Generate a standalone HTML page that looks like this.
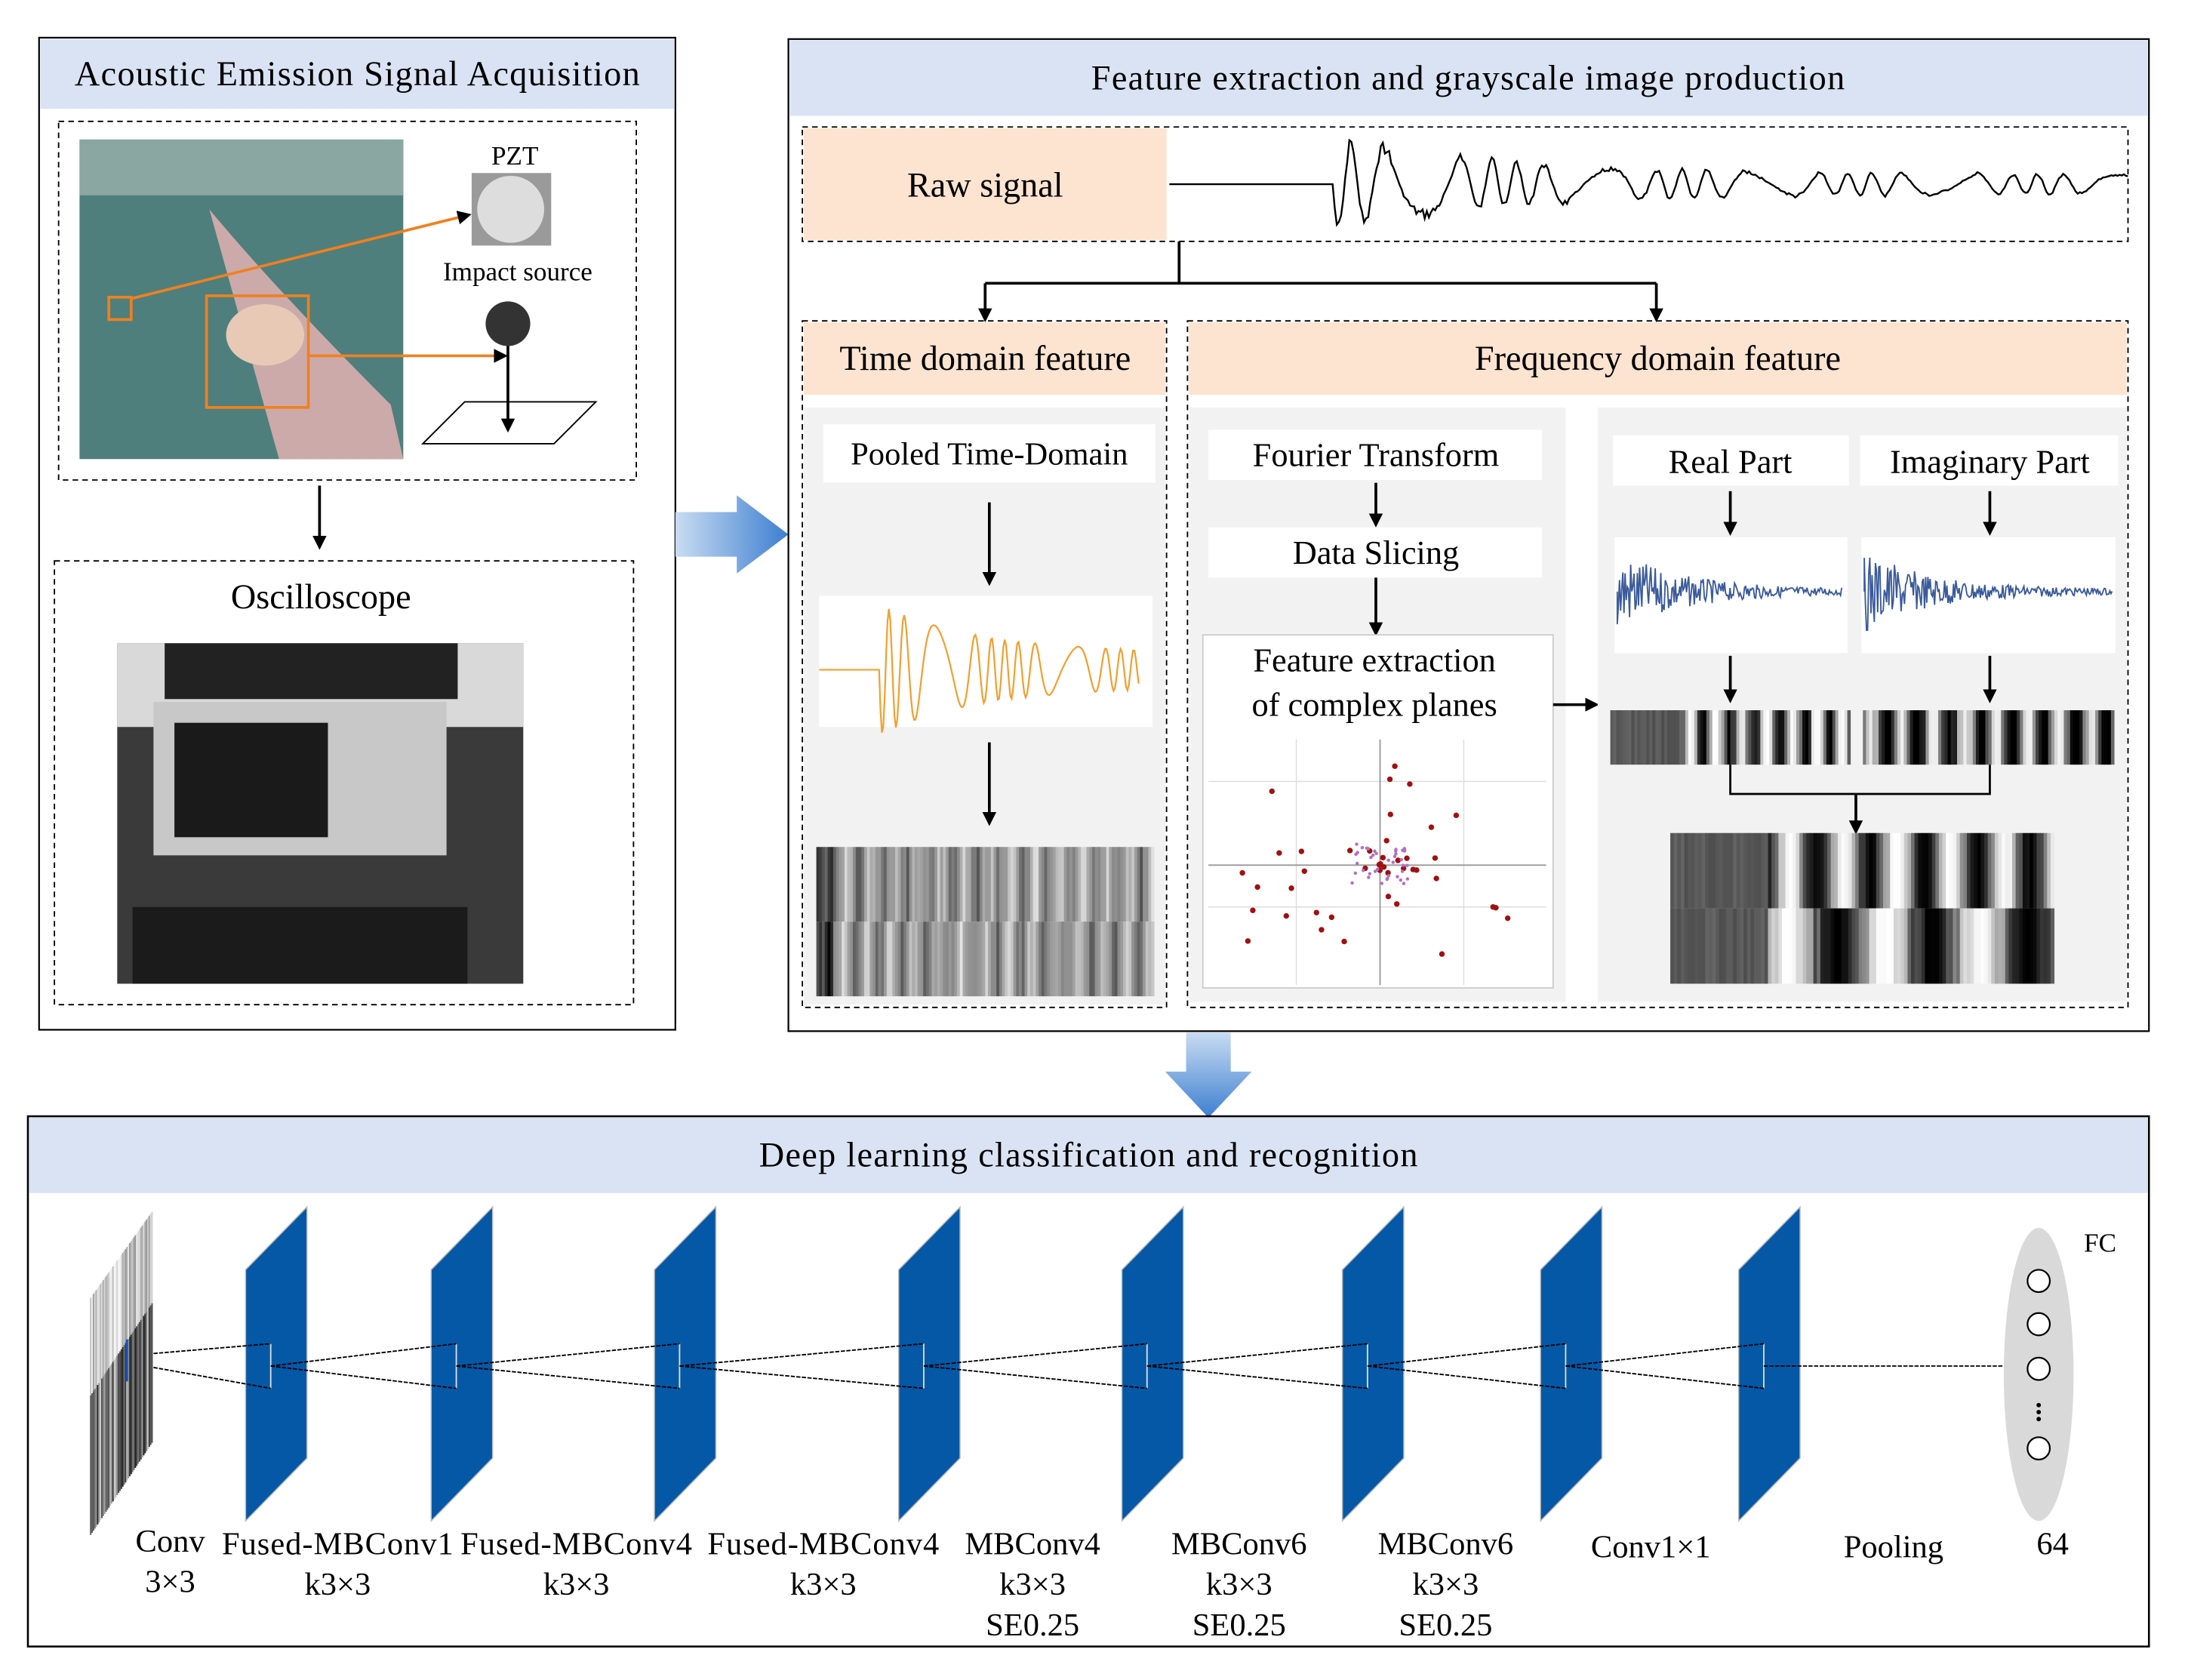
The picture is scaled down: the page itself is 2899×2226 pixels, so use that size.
<!DOCTYPE html>
<html><head><meta charset="utf-8"><style>
html,body{margin:0;padding:0;background:#fff;width:2899px;height:2226px;overflow:hidden}
svg text{font-family:"Liberation Serif",serif;fill:#000}
</style></head><body>
<svg id="s" width="2899" height="2226" viewBox="0 0 1568 1204" preserveAspectRatio="none" xmlns="http://www.w3.org/2000/svg">
<defs>
<marker id="ar" markerWidth="10" markerHeight="10" refX="8" refY="5" orient="auto" markerUnits="userSpaceOnUse"><path d="M0,0 L10,5 L0,10 z" fill="#000"/></marker>
<linearGradient id="bg1" x1="0" x2="1" y1="0" y2="0"><stop offset="0" stop-color="#c9dcf2"/><stop offset="1" stop-color="#3d7fd1"/></linearGradient>
<linearGradient id="bg2" x1="0" x2="0" y1="0" y2="1"><stop offset="0" stop-color="#c9dcf2"/><stop offset="1" stop-color="#3d7fd1"/></linearGradient>
</defs>
<rect width="1568" height="1204" fill="#fff"/>
<rect x="28" y="27" width="456" height="711" fill="none" stroke="#000" stroke-width="1.2"/>
<rect x="29" y="28" width="454" height="50" fill="#dae3f3"/>
<text x="256" y="61" font-size="25" text-anchor="middle" textLength="405">Acoustic Emission Signal Acquisition</text>
<rect x="42" y="87" width="414" height="257" fill="none" stroke="#000" stroke-dasharray="4,3"/>
<rect x="57" y="100" width="232" height="229" fill="#4e7f7c"/>
<rect x="57" y="100" width="232" height="40" fill="#8aa7a2"/>
<path d="M150,150 Q200,210 280,290 L289,329 L200,329 Z" fill="#caa"/>
<ellipse cx="190" cy="240" rx="28" ry="22" fill="#e7c9b6"/>
<rect x="78" y="213" width="16" height="16" fill="none" stroke="#f08020" stroke-width="2"/>
<rect x="148" y="212" width="73" height="80" fill="none" stroke="#f08020" stroke-width="2"/>
<line x1="94" y1="214" x2="336" y2="154" stroke="#f08020" stroke-width="2" marker-end="url(#ar)"/>
<line x1="221" y1="255" x2="362" y2="255" stroke="#f08020" stroke-width="2" marker-end="url(#ar)"/>
<text x="369" y="118" font-size="19" text-anchor="middle">PZT</text>
<rect x="338" y="124" width="57" height="52" fill="#9a9a9a"/>
<circle cx="366" cy="150" r="24" fill="#ddd"/>
<text x="371" y="201" font-size="19" text-anchor="middle">Impact source</text>
<circle cx="364" cy="232" r="16" fill="#333"/>
<line x1="364" y1="248" x2="364" y2="308" stroke="#000" stroke-width="2" marker-end="url(#ar)"/>
<polygon points="303,318 333,288 427,288 397,318" fill="none" stroke="#000"/>
<line x1="229" y1="348" x2="229" y2="392" stroke="#000" stroke-width="2" marker-end="url(#ar)"/>
<rect x="39" y="402" width="415" height="318" fill="none" stroke="#000" stroke-dasharray="4,3"/>
<text x="230" y="436" font-size="25" text-anchor="middle">Oscilloscope</text>
<rect x="84" y="461" width="291" height="244" fill="#3a3a3a"/>
<rect x="84" y="461" width="291" height="60" fill="#d9d9d9"/>
<rect x="118" y="461" width="210" height="40" fill="#222"/>
<rect x="110" y="503" width="210" height="110" fill="#c8c8c8"/>
<rect x="125" y="518" width="110" height="82" fill="#1a1a1a"/>
<rect x="95" y="650" width="240" height="55" fill="#1b1b1b"/>
<polygon points="484,367 528,367 528,355 565,383 528,411 528,399 484,399" fill="url(#bg1)"/>
<rect x="565" y="28" width="975" height="711" fill="none" stroke="#000" stroke-width="1.2"/>
<rect x="566" y="29" width="973" height="54" fill="#dae3f3"/>
<text x="1052" y="64" font-size="25" text-anchor="middle" textLength="540">Feature extraction and grayscale image production</text>
<rect x="575" y="91" width="950" height="82" fill="none" stroke="#000" stroke-dasharray="4,3"/>
<rect x="576" y="92" width="260" height="80" fill="#fde4d0"/>
<text x="706" y="141" font-size="25" text-anchor="middle">Raw signal</text>
<path id="raw" fill="none" stroke="#000" stroke-width="1.3"/>
<path d="M845,173 V203 M706,203 H1187" stroke="#000" stroke-width="2" fill="none"/>
<line x1="706" y1="203" x2="706" y2="229" stroke="#000" stroke-width="2" marker-end="url(#ar)"/>
<line x1="1187" y1="203" x2="1187" y2="229" stroke="#000" stroke-width="2" marker-end="url(#ar)"/>
<rect x="575" y="230" width="261" height="492" fill="none" stroke="#000" stroke-dasharray="4,3"/>
<rect x="576" y="231" width="259" height="52" fill="#fde4d0"/>
<text x="706" y="265" font-size="25" text-anchor="middle">Time domain feature</text>
<rect x="576" y="292" width="259" height="428" fill="#f2f2f2"/>
<rect x="590" y="304" width="238" height="42" fill="#fff"/>
<text x="709" y="333" font-size="23" text-anchor="middle">Pooled Time-Domain</text>
<line x1="709" y1="360" x2="709" y2="418" stroke="#000" stroke-width="2" marker-end="url(#ar)"/>
<rect x="587" y="427" width="239" height="94" fill="#fff"/>
<path id="tsig" fill="none" stroke="#f0a030" stroke-width="1.2"/>
<line x1="709" y1="532" x2="709" y2="590" stroke="#000" stroke-width="2" marker-end="url(#ar)"/>
<g id="tbar"></g>
<rect x="851" y="230" width="674" height="492" fill="none" stroke="#000" stroke-dasharray="4,3"/>
<rect x="852" y="231" width="672" height="52" fill="#fde4d0"/>
<text x="1188" y="265" font-size="25" text-anchor="middle">Frequency domain feature</text>
<rect x="852" y="292" width="270" height="426" fill="#f2f2f2"/>
<rect x="866" y="308" width="239" height="36" fill="#fff"/>
<text x="986" y="334" font-size="24" text-anchor="middle">Fourier Transform</text>
<line x1="986" y1="346" x2="986" y2="376" stroke="#000" stroke-width="2" marker-end="url(#ar)"/>
<rect x="866" y="378" width="239" height="36" fill="#fff"/>
<text x="986" y="404" font-size="24" text-anchor="middle">Data Slicing</text>
<line x1="986" y1="414" x2="986" y2="454" stroke="#000" stroke-width="2" marker-end="url(#ar)"/>
<rect x="862" y="455" width="251" height="253" fill="#fff" stroke="#ccc"/>
<text x="985" y="481" font-size="24" text-anchor="middle">Feature extraction</text>
<text x="985" y="513" font-size="24" text-anchor="middle">of complex planes</text>
<g stroke="#ddd" stroke-width="0.8"><path d="M866,560H1108M866,650H1108M929,530V706M1049,530V706"/></g>
<path d="M866,620H1108M989,530V706" stroke="#999" stroke-width="1"/>
<g id="scat"></g>
<line x1="1113" y1="505" x2="1144" y2="505" stroke="#000" stroke-width="2" marker-end="url(#ar)"/>
<rect x="1145" y="292" width="379" height="426" fill="#f2f2f2"/>
<rect x="1156" y="312" width="169" height="36" fill="#fff"/>
<text x="1240" y="339" font-size="24" text-anchor="middle">Real Part</text>
<rect x="1333" y="312" width="185" height="36" fill="#fff"/>
<text x="1426" y="339" font-size="24" text-anchor="middle">Imaginary Part</text>
<line x1="1240" y1="352" x2="1240" y2="382" stroke="#000" stroke-width="2" marker-end="url(#ar)"/>
<line x1="1426" y1="352" x2="1426" y2="382" stroke="#000" stroke-width="2" marker-end="url(#ar)"/>
<rect x="1157" y="385" width="167" height="83" fill="#fff"/>
<rect x="1334" y="385" width="182" height="83" fill="#fff"/>
<path id="rs" fill="none" stroke="#3a5a9a" stroke-width="1"/>
<path id="is" fill="none" stroke="#3a5a9a" stroke-width="1"/>
<line x1="1240" y1="470" x2="1240" y2="502" stroke="#000" stroke-width="2" marker-end="url(#ar)"/>
<line x1="1426" y1="470" x2="1426" y2="502" stroke="#000" stroke-width="2" marker-end="url(#ar)"/>
<g id="rbar"></g><g id="ibar"></g>
<path d="M1240,548V569H1426V548" stroke="#000" stroke-width="1.5" fill="none"/>
<line x1="1330" y1="569" x2="1330" y2="596" stroke="#000" stroke-width="2" marker-end="url(#ar)"/>
<g id="bbar"></g>
<polygon points="850,740 882,740 882,768 897,768 866,801 835,768 850,768" fill="url(#bg2)"/>
<rect x="20" y="800" width="1520" height="380" fill="none" stroke="#000" stroke-width="1.4"/>
<rect x="21" y="801" width="1518" height="54" fill="#dae3f3"/>
<text x="780" y="836" font-size="25" text-anchor="middle" textLength="472">Deep learning classification and recognition</text>
<g id="inp"></g>
<g id="net"></g>
<ellipse cx="1461" cy="985" rx="25" ry="105" fill="#d9d9d9"/>
<g fill="#fff" stroke="#000" stroke-width="1.2">
<circle cx="1461" cy="918" r="8"/><circle cx="1461" cy="949" r="8"/><circle cx="1461" cy="981" r="8"/><circle cx="1461" cy="1038" r="8"/></g>
<g fill="#000"><circle cx="1461" cy="1007" r="1.6"/><circle cx="1461" cy="1012" r="1.6"/><circle cx="1461" cy="1017" r="1.6"/></g>
<text x="1505" y="897" font-size="19" text-anchor="middle">FC</text>
<g font-size="23" text-anchor="middle">
<text x="122" y="1112">Conv</text><text x="122" y="1141">3×3</text>
<text x="242" y="1114" textLength="166">Fused-MBConv1</text><text x="242" y="1143">k3×3</text>
<text x="413" y="1114" textLength="166">Fused-MBConv4</text><text x="413" y="1143">k3×3</text>
<text x="590" y="1114" textLength="166">Fused-MBConv4</text><text x="590" y="1143">k3×3</text>
<text x="740" y="1114">MBConv4</text><text x="740" y="1143">k3×3</text><text x="740" y="1172">SE0.25</text>
<text x="888" y="1114">MBConv6</text><text x="888" y="1143">k3×3</text><text x="888" y="1172">SE0.25</text>
<text x="1036" y="1114">MBConv6</text><text x="1036" y="1143">k3×3</text><text x="1036" y="1172">SE0.25</text>
<text x="1183" y="1116">Conv1×1</text>
<text x="1357" y="1116">Pooling</text>
<text x="1471" y="1114">64</text>
</g>
</svg>
<script>
var NS="http://www.w3.org/2000/svg";
function R(s){return function(){s=(s*9301+49297)%233280;return s/233280;}}
var r=R(7);
function el(p,t,a){var e=document.createElementNS(NS,t);for(var k in a)e.setAttribute(k,a[k]);p.appendChild(e);return e;}
var d="M838,132";
for(var x=838;x<=1525;x+=1.5){var y=132;
 if(x>955){var t=x-955;var env=30*Math.exp(-t/120)+8;y=132+env*Math.sin(t*0.22+Math.sin(t*0.05)*3)*(0.7+0.3*r());}
 d+=" L"+x+","+y.toFixed(1);}
document.getElementById("raw").setAttribute("d",d);
d="M587,480";
for(x=587;x<=816;x+=1){var t=x-630;var y=480;if(t>0){y=480+(35*Math.exp(-t/70)+12)*Math.sin(t*0.4+Math.sin(t*0.07)*4);}d+=" L"+x+","+y.toFixed(1);}
document.getElementById("tsig").setAttribute("d",d);
function sig(id,x0,x1,yc,amp){var d="M"+x0+","+yc;for(var x=x0;x<=x1;x+=0.8){var t=x-x0;var e=amp*Math.exp(-t/45)+2;d+=" L"+x.toFixed(1)+","+(yc+e*(r()*2-1)).toFixed(1);}document.getElementById(id).setAttribute("d",d);}
sig("rs",1159,1320,424,28);sig("is",1336,1514,424,28);
function bars(id,x0,y0,w,h,rows,n,fn){var g=document.getElementById(id);var bw=w/n;for(var k=0;k<rows;k++)for(var i=0;i<n;i++){var v=Math.round(fn(i/n,k)*255);v=Math.max(0,Math.min(255,v));el(g,"rect",{x:(x0+i*bw).toFixed(2),y:y0+k*h/rows,width:(bw+0.3).toFixed(2),height:h/rows,fill:"rgb("+v+","+v+","+v+")"});}}
bars("tbar",585,607,242,107,2,120,function(u,k){return 0.6+0.3*Math.sin(u*90+k)*r()+(u<0.05?-0.4:0);});
bars("rbar",1154,509,172,39,1,80,function(u){return u<0.3?0.3+0.1*r():0.5+0.5*Math.sin(u*60+r());});
bars("ibar",1335,509,180,39,1,80,function(u){return 0.45+0.5*Math.sin(u*50+r()*0.8);});
bars("bbar",1197,597,275,108,2,110,function(u,k){return u<0.25?0.3+0.1*r():0.5+0.5*Math.sin(u*(k?25:45)+r()*0.6);});
var g=document.getElementById("scat");
for(var i=0;i<45;i++){var a=r()*6.28,rad=Math.pow(r(),1.5)*110;el(g,"circle",{cx:989+Math.cos(a)*rad*1.1,cy:620+Math.sin(a)*rad*0.8,r:2,fill:"#a01010"});}
for(i=0;i<40;i++){el(g,"circle",{cx:989+(r()-0.5)*40,cy:620+(r()-0.5)*30,r:1.2,fill:"#b070c0"});}
g=document.getElementById("inp");
for(i=0;i<45;i++){var x=65+i;var v=Math.round(150+100*r());el(g,"line",{x1:x,y1:930-i*1.4,x2:x,y2:1000-i*1.5,stroke:"rgb("+v+","+v+","+v+")","stroke-width":1.1});}
for(i=0;i<45;i++){var x=65+i;var v=Math.round(30+180*r());el(g,"line",{x1:x,y1:1000-i*1.5,x2:x,y2:1100-i*1.5,stroke:"rgb("+v+","+v+","+v+")","stroke-width":1.1});}
el(g,"line",{x1:91,y1:960,x2:91,y2:990,stroke:"#1050c0","stroke-width":1.5});
g=document.getElementById("net");
var cs=[198,331,491,666,826,984,1126,1268];
for(i=0;i<cs.length;i++){var c=cs[i];el(g,"polygon",{points:(c-22)+",910 "+(c+22)+",865 "+(c+22)+",1045 "+(c-22)+",1090",fill:"#0558a6",stroke:"#bbb","stroke-width":0.8});
 el(g,"line",{x1:c-4,y1:963,x2:c-4,y2:995,stroke:"#ddd","stroke-width":1});}
var prev=[110,970,110,980];
for(i=0;i<cs.length;i++){var c=cs[i]-4;
 el(g,"path",{d:"M"+prev[0]+","+prev[1]+" L"+c+",963 M"+prev[2]+","+prev[3]+" L"+c+",995",stroke:"#000","stroke-width":1,"stroke-dasharray":"3,1",fill:"none"});
 prev=[c,979,c,979];}
el(g,"line",{x1:cs[7]-4,y1:979,x2:1436,y2:979,stroke:"#000","stroke-width":1,"stroke-dasharray":"3,1"});
</script>
</body></html>
